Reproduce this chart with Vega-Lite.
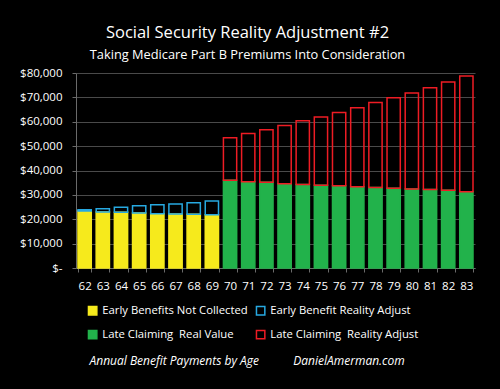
{
  "$schema": "https://vega.github.io/schema/vega-lite/v6.json",
  "autosize": "none",
  "width": 399,
  "height": 195,
  "padding": {"left": 76, "top": 73, "right": 25, "bottom": 121},
  "background": "black",
  "title": {
    "text": "Social Security Reality Adjustment #2",
    "subtitle": "Taking Medicare Part B Premiums Into Consideration",
    "anchor": "middle",
    "dx": -28,
    "offset": 5,
    "color": "white",
    "subtitleColor": "white",
    "font": "Open Sans",
    "subtitleFont": "Open Sans",
    "fontSize": 16.5,
    "fontWeight": "normal",
    "subtitleFontSize": 12.8,
    "subtitlePadding": 8
  },
  "data": {
    "values": [
      {"age": "62", "series": "Early Benefits Not Collected", "part": "base", "value": 23400},
      {"age": "62", "series": "Early Benefit Reality Adjust", "part": "adjust", "value": 500},
      {"age": "63", "series": "Early Benefits Not Collected", "part": "base", "value": 23000},
      {"age": "63", "series": "Early Benefit Reality Adjust", "part": "adjust", "value": 1300},
      {"age": "64", "series": "Early Benefits Not Collected", "part": "base", "value": 22900},
      {"age": "64", "series": "Early Benefit Reality Adjust", "part": "adjust", "value": 2000},
      {"age": "65", "series": "Early Benefits Not Collected", "part": "base", "value": 22600},
      {"age": "65", "series": "Early Benefit Reality Adjust", "part": "adjust", "value": 2900},
      {"age": "66", "series": "Early Benefits Not Collected", "part": "base", "value": 22300},
      {"age": "66", "series": "Early Benefit Reality Adjust", "part": "adjust", "value": 3600},
      {"age": "67", "series": "Early Benefits Not Collected", "part": "base", "value": 22200},
      {"age": "67", "series": "Early Benefit Reality Adjust", "part": "adjust", "value": 4100},
      {"age": "68", "series": "Early Benefits Not Collected", "part": "base", "value": 22100},
      {"age": "68", "series": "Early Benefit Reality Adjust", "part": "adjust", "value": 4700},
      {"age": "69", "series": "Early Benefits Not Collected", "part": "base", "value": 21800},
      {"age": "69", "series": "Early Benefit Reality Adjust", "part": "adjust", "value": 5700},
      {"age": "70", "series": "Late Claiming\u00a0 Real Value", "part": "base", "value": 36000},
      {"age": "70", "series": "Late Claiming\u00a0 Reality Adjust", "part": "adjust", "value": 17400},
      {"age": "71", "series": "Late Claiming\u00a0 Real Value", "part": "base", "value": 35400},
      {"age": "71", "series": "Late Claiming\u00a0 Reality Adjust", "part": "adjust", "value": 19800},
      {"age": "72", "series": "Late Claiming\u00a0 Real Value", "part": "base", "value": 35200},
      {"age": "72", "series": "Late Claiming\u00a0 Reality Adjust", "part": "adjust", "value": 21500},
      {"age": "73", "series": "Late Claiming\u00a0 Real Value", "part": "base", "value": 34600},
      {"age": "73", "series": "Late Claiming\u00a0 Reality Adjust", "part": "adjust", "value": 23900},
      {"age": "74", "series": "Late Claiming\u00a0 Real Value", "part": "base", "value": 34300},
      {"age": "74", "series": "Late Claiming\u00a0 Reality Adjust", "part": "adjust", "value": 26100},
      {"age": "75", "series": "Late Claiming\u00a0 Real Value", "part": "base", "value": 33900},
      {"age": "75", "series": "Late Claiming\u00a0 Reality Adjust", "part": "adjust", "value": 28100},
      {"age": "76", "series": "Late Claiming\u00a0 Real Value", "part": "base", "value": 33700},
      {"age": "76", "series": "Late Claiming\u00a0 Reality Adjust", "part": "adjust", "value": 30100},
      {"age": "77", "series": "Late Claiming\u00a0 Real Value", "part": "base", "value": 33300},
      {"age": "77", "series": "Late Claiming\u00a0 Reality Adjust", "part": "adjust", "value": 32400},
      {"age": "78", "series": "Late Claiming\u00a0 Real Value", "part": "base", "value": 33000},
      {"age": "78", "series": "Late Claiming\u00a0 Reality Adjust", "part": "adjust", "value": 34900},
      {"age": "79", "series": "Late Claiming\u00a0 Real Value", "part": "base", "value": 32700},
      {"age": "79", "series": "Late Claiming\u00a0 Reality Adjust", "part": "adjust", "value": 37100},
      {"age": "80", "series": "Late Claiming\u00a0 Real Value", "part": "base", "value": 32400},
      {"age": "80", "series": "Late Claiming\u00a0 Reality Adjust", "part": "adjust", "value": 39400},
      {"age": "81", "series": "Late Claiming\u00a0 Real Value", "part": "base", "value": 32200},
      {"age": "81", "series": "Late Claiming\u00a0 Reality Adjust", "part": "adjust", "value": 41800},
      {"age": "82", "series": "Late Claiming\u00a0 Real Value", "part": "base", "value": 31900},
      {"age": "82", "series": "Late Claiming\u00a0 Reality Adjust", "part": "adjust", "value": 44400},
      {"age": "83", "series": "Late Claiming\u00a0 Real Value", "part": "base", "value": 31300},
      {"age": "83", "series": "Late Claiming\u00a0 Reality Adjust", "part": "adjust", "value": 47500}
    ]
  },
  "mark": {"type": "bar", "strokeWidth": 1.5},
  "encoding": {
    "x": {
      "field": "age",
      "type": "ordinal",
      "scale": {"paddingInner": 0.27, "paddingOuter": 0.11},
      "axis": {
        "labelAngle": 0,
        "labelColor": "white",
        "labelFont": "Open Sans",
        "labelFontSize": 11.5,
        "labelPadding": 8,
        "tickBand": "extent",
        "tickColor": "#6a6a6a",
        "tickSize": 4,
        "domainColor": "#6a6a6a",
        "title": "Annual Benefit Payments by Age\u00a0\u00a0\u00a0\u00a0\u00a0\u00a0\u00a0\u00a0\u00a0\u00a0\u00a0DanielAmerman.com",
        "titleColor": "white",
        "titleFont": "Open Sans",
        "titleFontSize": 12,
        "titleFontStyle": "italic",
        "titleFontWeight": "normal",
        "titleAnchor": "start",
        "titleAlign": "left",
        "titleX": 13,
        "titleY": 92,
        "titleBaseline": "middle"
      }
    },
    "y": {
      "field": "value",
      "type": "quantitative",
      "aggregate": "sum",
      "stack": "zero",
      "scale": {"domain": [0, 80000]},
      "axis": {
        "values": [0, 10000, 20000, 30000, 40000, 50000, 60000, 70000, 80000],
        "labelOverlap": false,
        "labelExpr": "datum.value == 0 ? '$-' : format(datum.value, '$,')",
        "labelColor": "white",
        "labelFont": "Open Sans",
        "labelFontSize": 11.5,
        "labelPadding": 10,
        "tickColor": "#6a6a6a",
        "tickSize": 4,
        "domainColor": "#6a6a6a",
        "gridColor": "#4a4a4a",
        "gridWidth": 1.2,
        "title": null
      }
    },
    "order": {"field": "part", "sort": "descending"},
    "fill": {
      "field": "series",
      "type": "nominal",
      "scale": {
        "domain": ["Early Benefits Not Collected", "Early Benefit Reality Adjust", "Late Claiming\u00a0 Real Value", "Late Claiming\u00a0 Reality Adjust"],
        "range": ["#f6ea1c", "transparent", "#22b24b", "transparent"]
      },
      "legend": {
        "orient": "none",
        "legendX": 11,
        "legendY": 232,
        "direction": "horizontal",
        "columns": 2,
        "title": null,
        "symbolType": "square",
        "symbolSize": 70,
        "symbolStrokeWidth": 1.5,
        "labelColor": "white",
        "labelFont": "Open Sans",
        "labelFontSize": 11.3,
        "labelLimit": 300,
        "columnPadding": 5,
        "rowPadding": 9
      }
    },
    "stroke": {
      "field": "series",
      "type": "nominal",
      "scale": {
        "domain": ["Early Benefits Not Collected", "Early Benefit Reality Adjust", "Late Claiming\u00a0 Real Value", "Late Claiming\u00a0 Reality Adjust"],
        "range": ["#f6ea1c", "#27a9e1", "#22b24b", "#ee1c24"]
      },
      "legend": {
        "orient": "none",
        "legendX": 11,
        "legendY": 232,
        "direction": "horizontal",
        "columns": 2,
        "title": null,
        "symbolType": "square",
        "symbolSize": 70,
        "symbolStrokeWidth": 1.5,
        "labelColor": "white",
        "labelFont": "Open Sans",
        "labelFontSize": 11.3,
        "labelLimit": 300,
        "columnPadding": 5,
        "rowPadding": 9
      }
    }
  },
  "config": {
    "view": {"stroke": null},
    "axis": {"grid": false},
    "axisY": {"grid": true},
    "axisX": {"grid": false}
  }
}
